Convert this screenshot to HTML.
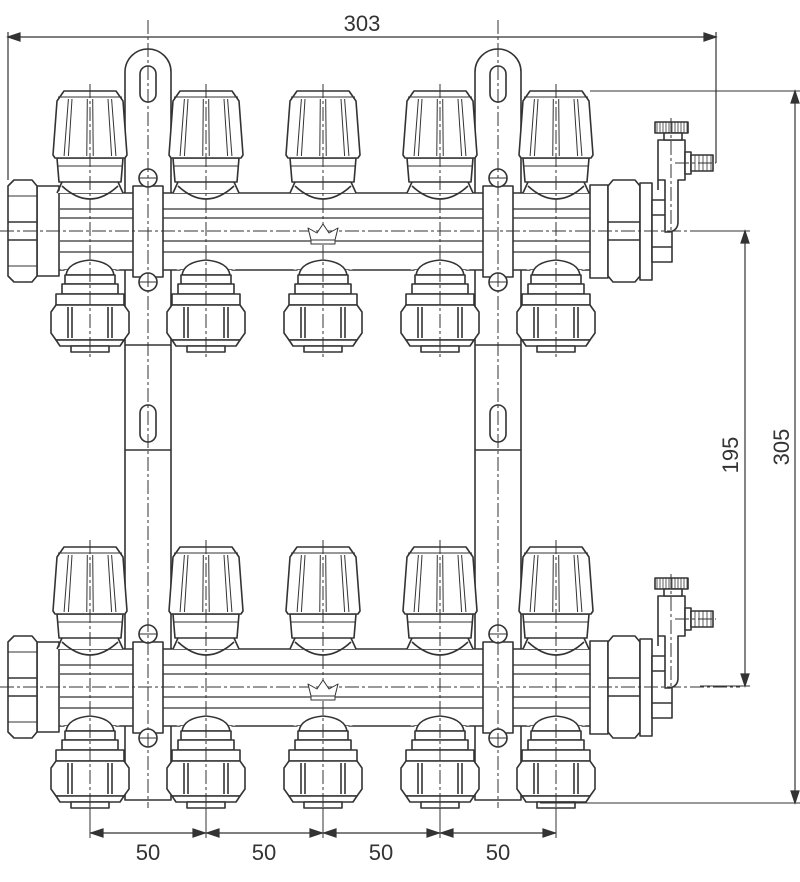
<!DOCTYPE html>
<html><head><meta charset="utf-8"><style>
html,body{margin:0;padding:0;background:#fff}
svg{display:block}
text{font-family:"Liberation Sans",sans-serif;fill:#333}
</style></head><body>
<svg id="s" width="800" height="882" viewBox="0 0 800 882" xmlns="http://www.w3.org/2000/svg"></svg>
<script>
var s=document.getElementById('s');var out='';
function L(x1,y1,x2,y2,extra){out+='<line x1="'+x1+'" y1="'+y1+'" x2="'+x2+'" y2="'+y2+'" '+(extra||'')+'/>';}
function R(x,y,w,h,extra){out+='<rect x="'+x+'" y="'+y+'" width="'+w+'" height="'+h+'" '+(extra||'')+'/>';}
function P(d,extra){out+='<path d="'+d+'" '+(extra||'')+'/>';}
var DASH='stroke-dasharray="14 3 3 3" stroke-width="1"';
var xs=[90,206,323,440,556];
out+='<g fill="#fff" stroke="#333" stroke-width="1.6" stroke-linejoin="round">';
// brackets
[148,498].forEach(function(c){
  P('M'+(c-23)+' 800 L'+(c-23)+' 72 A23 23 0 0 1 '+(c+23)+' 72 L'+(c+23)+' 800 Z');
  R(c-8,66,16,36,'rx="8"');R(c-8,405,16,37,'rx="8"');
  L(c-23,345,c+23,345);L(c-23,450,c+23,450);
});
function manifold(o){
  // pipe
  R(57,193+o,540,77);
  [209,218,241,252].forEach(function(y){L(60,y+o,595,y+o,'stroke-width="1.2"');});
  // left end
  R(37,186+o,22,90);
  P('M8 '+(186+o)+' L14 '+(180+o)+' L32 '+(180+o)+' L37 '+(186+o)+' L37 '+(276+o)+' L32 '+(282+o)+' L14 '+(282+o)+' L8 '+(276+o)+' Z');
  L(8,222+o,37,222+o);L(8,240+o,37,240+o);L(8,196+o,37,196+o,'stroke-width="1"');L(8,266+o,37,266+o,'stroke-width="1"');
  // right end
  R(590,185+o,18,93);
  P('M608 '+(186+o)+' L613 '+(180+o)+' L635 '+(180+o)+' L640 '+(186+o)+' L640 '+(276+o)+' L635 '+(282+o)+' L613 '+(282+o)+' L608 '+(276+o)+' Z');
  L(608,222+o,640,222+o);L(608,240+o,640,240+o);
  R(640,183+o,12,97);R(652,200+o,20,62);L(652,215+o,672,215+o);L(652,247+o,672,247+o);
  // air vent
  P('M658 '+(190+o)+' L658 '+(140+o)+' L685 '+(140+o)+' L685 '+(180+o)+' L678 '+(180+o)+' L678 '+(222+o)+' Q678 '+(230+o)+' 670 '+(232+o)+' L665 '+(232+o)+' L665 '+(180+o)+' L658 '+(180+o));
  R(655,122+o,33,11);for(var k=657;k<688;k+=3)L(k,122+o,k,133+o,'stroke-width="0.8"');
  R(664,133+o,18,7);
  R(685,152+o,6,22);R(691,155+o,22,16);for(var k=695;k<713;k+=4)L(k,155+o,k,171+o,'stroke-width="0.8"');
  L(671,118+o,671,230+o,DASH);L(675,163+o,716,163+o,DASH);
  xs.forEach(function(x){
    // upper valve body
    P('M'+(x-33)+' '+(193+o)+' Q'+(x-28)+' '+(190+o)+' '+(x-28)+' '+(182+o)+' L'+(x+28)+' '+(182+o)+' Q'+(x+28)+' '+(190+o)+' '+(x+33)+' '+(193+o)+' Z','stroke="none"');
    L(x-33,193+o,x-28,182+o);L(x+33,193+o,x+28,182+o);
    P('M'+(x-28)+' '+(186+o)+' Q'+x+' '+(212+o)+' '+(x+28)+' '+(186+o),'fill="none"');
    // skirt
    P('M'+(x-33)+' '+(158+o)+' L'+(x+33)+' '+(158+o)+' L'+(x+31)+' '+(182+o)+' L'+(x-31)+' '+(182+o)+' Z');
    L(x-32,166+o,x+32,166+o,'stroke-width="1"');
    // cap
    P('M'+(x-26)+' '+(91+o)+' L'+(x+26)+' '+(91+o)+' L'+(x+33)+' '+(101+o)+' L'+(x+37)+' '+(155+o)+' L'+(x+35)+' '+(158+o)+' L'+(x-35)+' '+(158+o)+' L'+(x-37)+' '+(155+o)+' L'+(x-33)+' '+(101+o)+' Z');
    L(x-32,97+o,x+32,97+o,'stroke-width="1"');
    [-24,-20,-3,3,20,24].forEach(function(d){L(x+d*0.9,99+o,x+d*1.08,156+o,'stroke-width="1"');});
    // lower fitting
    P('M'+(x-30)+' '+(270+o)+' Q'+(x-24)+' '+(268+o)+' '+(x-24)+' '+(275+o)+' L'+(x+24)+' '+(275+o)+' Q'+(x+24)+' '+(268+o)+' '+(x+30)+' '+(270+o)+' Z','stroke="none"');
    P('M'+(x-24)+' '+(275+o)+' Q'+(x-22)+' '+(262+o)+' '+x+' '+(260+o)+' Q'+(x+22)+' '+(262+o)+' '+(x+24)+' '+(275+o)+' Z');
    R(x-25,275+o,50,9);R(x-28,284+o,56,10);R(x-34,294+o,68,11);
    P('M'+(x-34)+' '+(305+o)+' L'+(x+34)+' '+(305+o)+' L'+(x+39)+' '+(312+o)+' L'+(x+39)+' '+(333+o)+' L'+(x+34)+' '+(340+o)+' L'+(x-34)+' '+(340+o)+' L'+(x-39)+' '+(333+o)+' L'+(x-39)+' '+(312+o)+' Z');
    L(x-22,307+o,x-22,338+o);L(x-18,307+o,x-18,338+o);L(x+18,307+o,x+18,338+o);L(x+22,307+o,x+22,338+o);
    P('M'+(x-34)+' '+(340+o)+' L'+(x+34)+' '+(340+o)+' L'+(x+30)+' '+(346+o)+' L'+(x-30)+' '+(346+o)+' Z');
    R(x-19,346+o,38,6);
    L(x,84+o,x,358+o,DASH);
  });
  // bracket band over pipe
  [148,498].forEach(function(c){
    R(c-15,186+o,30,91);
    out+='<circle cx="'+c+'" cy="'+(178+o)+'" r="9"/><circle cx="'+c+'" cy="'+(282+o)+'" r="9"/>';
    L(c-9,178+o,c+9,178+o,'stroke-width="1"');L(c-9,282+o,c+9,282+o,'stroke-width="1"');
  });
  L(0,231+o,740,231+o,DASH);
  // crown
  var cx=323,cy=232+o;
  P('M'+(cx-12)+' '+(cy+8)+' L'+(cx-15)+' '+(cy-4)+' L'+(cx-6)+' '+(cy+1)+' L'+cx+' '+(cy-8)+' L'+(cx+6)+' '+(cy+1)+' L'+(cx+15)+' '+(cy-4)+' L'+(cx+12)+' '+(cy+8)+' Z','stroke-width="1"');
  R(cx-12,cy+8,24,4,'stroke-width="1"');
}
manifold(0);manifold(456);
[148,498].forEach(function(c){L(c,20,c,808,DASH);});
out+='</g>';
// dimensions
out+='<g stroke="#333" stroke-width="1.2" fill="#333">';
L(8,37,716,37);L(8,32,8,180);L(716,32,716,163);
P('M8 37 l12 -4 v8 z');P('M716 37 l-12 -4 v8 z');
L(795,91,795,803);L(590,91,800,91,'stroke-width="1"');L(540,803,800,803,'stroke-width="1"');
P('M795 91 l-4 12 h8 z');P('M795 803 l-4 -12 h8 z');
L(745,231,745,686);L(700,686,750,686,'stroke-width="1"');L(700,231,750,231,'stroke-width="1"');
P('M745 231 l-4 12 h8 z');P('M745 686 l-4 -12 h8 z');
L(90,833,556,833);
xs.forEach(function(x,i){L(x,808,x,838,'stroke-width="1"');
 if(i<4){P('M'+(x+1)+' 833 l12 -4 v8 z');P('M'+(xs[i+1]-1)+' 833 l-12 -4 v8 z');}});
out+='</g>';
out+='<text x="362" y="31" font-size="22" text-anchor="middle">303</text>';
[148,264,381,498].forEach(function(x){out+='<text x="'+x+'" y="860" font-size="22" text-anchor="middle">50</text>';});
out+='<text transform="translate(738,455) rotate(-90)" font-size="22" text-anchor="middle">195</text>';
out+='<text transform="translate(789,447) rotate(-90)" font-size="22" text-anchor="middle">305</text>';
s.innerHTML=out;
</script>
</body></html>
